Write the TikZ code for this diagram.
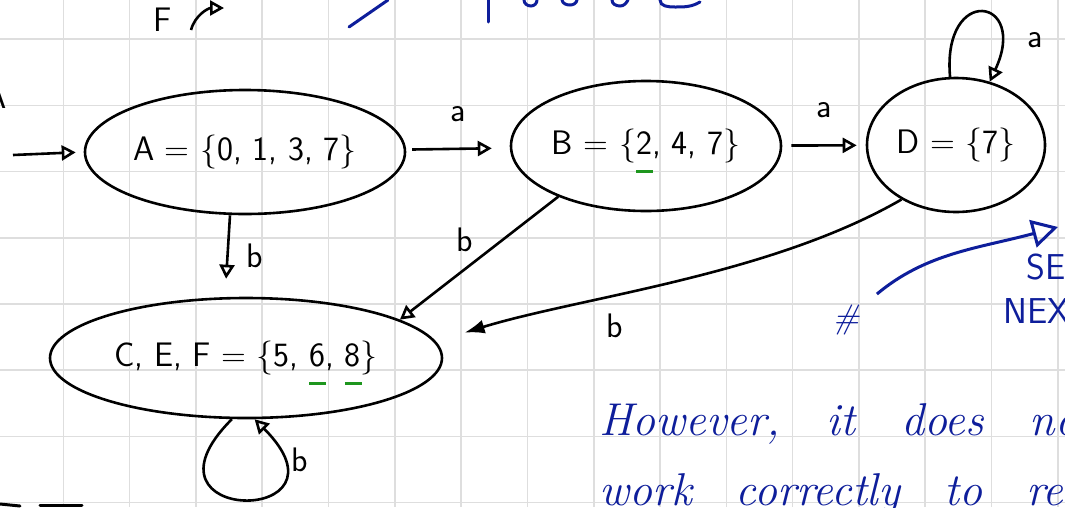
\documentclass[tikz,border=0pt]{standalone}
\usepackage{tikz}
\usetikzlibrary{arrows.meta,shapes.geometric,positioning,calc}

\definecolor{inkblue}{RGB}{14,30,155}
\definecolor{markgreen}{RGB}{30,150,30}
\definecolor{gridgray}{RGB}{222,222,222}
\newcommand{\ulgreen}[1]{\leavevmode\rlap{\smash{\textcolor{markgreen}{\rule[-18pt]{0.5em}{2.6pt}}}}#1}

\begin{document}
\begin{tikzpicture}[x=1pt, y=1pt,
  state/.style={draw, ellipse, line width=2.6pt, inner sep=0pt, font=\fontsize{34}{40}\selectfont\sffamily},
  trans/.style={line width=2.6pt, -{Triangle[open,length=14pt,width=15pt]}},
  lbl/.style={inner sep=2pt, font=\fontsize{34}{40}\selectfont\sffamily},
  note/.style={text=inkblue, inner sep=0pt, font=\fontsize{46}{50}\selectfont\itshape}]
\useasboundingbox (0,0) rectangle (1065,-507);
\fill[white] (0,0) rectangle (1065,-507);

% squared paper
\foreach \k in {1,...,16}
  \draw[gridgray, line width=1.6pt] ({-3+66.3*\k},0) -- ({-3+66.3*\k},-507);
\foreach \k in {1,...,8}
  \draw[gridgray, line width=1.6pt] (0,{27-66.2*\k}) -- (1065,{27-66.2*\k});

% leftovers of the lines above and below
\node[lbl, anchor=base east] at (9,-108) {A};
\node[lbl, anchor=base] at (163,-31) {F};
\draw[line width=2.6pt, -{Triangle[open,length=14pt,width=15pt]}] (191,-30) to[out=75,in=180] (224,-8);
\draw[inkblue, line width=3pt, line cap=round] (349,-27) -- (388,0);
\draw[inkblue, line width=3pt, line cap=round] (488,0) -- (488,-22);
\draw[inkblue, line width=3pt, line cap=round] (524,0) to[out=-90,in=180] (531,-6) to[out=0,in=-90] (537,0);
\draw[inkblue, line width=3pt, line cap=round] (562,0) to[out=-80,in=180] (570,-5) to[out=0,in=-100] (577,0);
\draw[inkblue, line width=3pt, line cap=round] (612,0) to[out=-90,in=180] (620,-6) to[out=0,in=-120] (628,0);
\draw[inkblue, line width=3pt, line cap=round] (660,0) to[out=-90,in=180] (675,-7) to[out=0,in=-150] (700,-2);
\draw[line width=3pt, line cap=round] (0,-504) -- (20,-506);
\draw[line width=3pt, line cap=round] (40,-505) -- (82,-505);

% states
\node[state, minimum width=320pt, minimum height=124pt] (A) at (245,-152) {A = \{0, 1, 3, 7\}};
\node[state, minimum width=270pt, minimum height=130pt] (B) at (646,-146) {B = \{\ulgreen{2}, 4, 7\}};
\node[state, minimum width=178pt, minimum height=134pt] (D) at (956,-145) {D = \{7\}};
\node[state, minimum width=392pt, minimum height=120pt] (CEF) at (246,-358) {C, E, F = \{5, \ulgreen{6}, \ulgreen{8}\}};

% start arrow
\coordinate (init) at (13,-155);
\draw[trans, shorten >=8pt] (init) -- (A.west);

% a-transitions
\draw[trans, shorten <=6pt, shorten >=18pt] (A) -- (B) node[lbl, midway, above=24pt] {a};
\draw[trans, shorten <=9pt, shorten >=9pt] (B) -- (D) node[lbl, midway, above=24pt] {a};
\draw[trans] (D.95) to[out=95,in=65,looseness=6] node[lbl, pos=0.8, right=24pt] {a} (D.62);

% b-transitions
\draw[trans, shorten >=18pt] ([xshift=-15pt]A.south) -- ([xshift=-21pt]CEF.north) node[lbl, midway, right=16pt] {b};
\draw[trans] (B.-150) -- (CEF.14) node[lbl, midway, above left=4pt] {b};
\draw[line width=2.6pt, -{Latex[length=20pt,width=14pt]}, shorten >=30pt]
  (D.-135) to[out=-150,in=17,looseness=0.8] node[lbl, pos=0.62, below=14pt] {b} (CEF.5);
\draw[trans] (CEF.-103) to[out=-135,in=-45,looseness=17] node[lbl, pos=0.85, right=6pt] {b} (CEF.-82);

% blue notes
\node[text=inkblue, font=\fontsize{34}{40}\selectfont\itshape] (hash) at (846,-320) {\#};
\coordinate (nextTip) at (1058,-227);
\draw[inkblue, line width=3pt, shorten <=18pt, -{Triangle[open,length=26pt,width=28pt]}]
  (hash) to[out=40,in=195] (nextTip);
\node[text=inkblue, anchor=west, inner sep=0pt, font=\fontsize{36}{40}\selectfont\sffamily] (se) at (1026,-267) {SE};
\node[text=inkblue, anchor=west, inner sep=0pt, font=\fontsize{36}{40}\selectfont\sffamily] (nex) at (1003,-311) {NEX};
\node[note, anchor=base west] (line1) at (599,-435) {\spaceskip=46pt However, it does no};
\node[note, anchor=base west] (line2) at (599,-505) {\spaceskip=44pt work correctly to re};
\end{tikzpicture}
\end{document}
